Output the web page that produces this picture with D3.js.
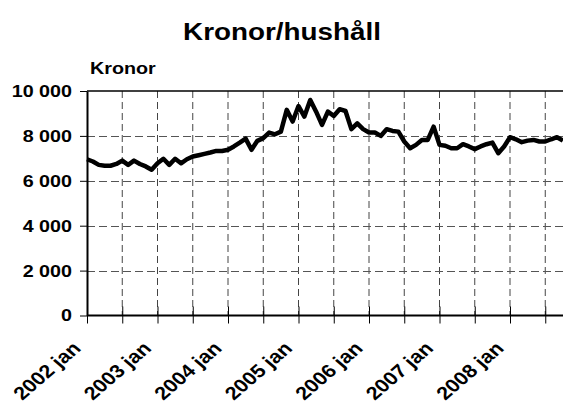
<!DOCTYPE html>
<html>
<head>
<meta charset="utf-8">
<script src="https://cdn.jsdelivr.net/npm/d3@7"></script>
<style>
  html, body { margin: 0; padding: 0; background: #fff; }
  svg { display: block; font-family: Arial, "Liberation Sans", sans-serif; }
</style>
</head>
<body>
<svg id="chart" width="563" height="409"></svg>
<script>
// Monthly amount per household, kronor, starting 2002 jan
const startYear = 2002;
const kronor = [
  6960, 6860, 6710, 6670, 6670, 6750, 6900, 6710, 6900, 6750, 6640, 6490,
  6780, 6980, 6710, 6980, 6780, 6960, 7080, 7140, 7200, 7260, 7330, 7330,
  7380, 7530, 7700, 7880, 7380, 7780, 7900, 8150, 8070, 8190, 9160, 8640,
  9330, 8860, 9600, 9080, 8490, 9080, 8890, 9190, 9110, 8300, 8560, 8300,
  8150, 8150, 8000, 8300, 8220, 8190, 7750, 7450, 7600, 7820, 7820, 8410,
  7600, 7560, 7450, 7450, 7630, 7530, 7410, 7530, 7630, 7700, 7230, 7530,
  7940, 7850, 7720, 7790, 7820, 7750, 7750, 7850, 7940, 7790
];
const monthCount = 84; // category axis covers 2002 jan .. 2008 dec
const xTickLabels = ["2002 jan", "2003 jan", "2004 jan", "2005 jan", "2006 jan", "2007 jan", "2008 jan"];
const yTicks = [0, 2000, 4000, 6000, 8000, 10000];
const titleText = "Kronor/hushåll";
const yAxisTitle = "Kronor";

const svg = d3.select("#chart");
const plotLeft = 87, plotTop = 91, plotBottom = 315.5;
const monthStep = 5.875;
const textWiden = 1.16; // horizontal widening applied to all lettering

const x = d3.scaleLinear().domain([0, monthCount - 1]).range([plotLeft, plotLeft + (monthCount - 1) * monthStep]);
const y = d3.scaleLinear().domain([0, 10000]).range([plotBottom, plotTop]);

const locale = d3.formatLocale({ decimal: ",", thousands: " ", grouping: [3], currency: ["", ""] });
const fmt = locale.format(",d");

// grid
const gridMonths = d3.range(6, monthCount + 1, 6);
svg.append("g").selectAll("line").data(gridMonths).join("line")
  .attr("x1", d => x(d)).attr("x2", d => x(d))
  .attr("y1", plotTop).attr("y2", plotBottom)
  .attr("stroke", "#444").attr("stroke-width", 1).attr("stroke-dasharray", "7,4");
svg.append("g").selectAll("line").data(yTicks.filter(v => v > 0 && v < 10000)).join("line")
  .attr("x1", plotLeft).attr("x2", 563)
  .attr("y1", d => Math.round(y(d)) + 0.5).attr("y2", d => Math.round(y(d)) + 0.5)
  .attr("stroke", "#555").attr("stroke-width", 1).attr("stroke-dasharray", "8,4");

// top border
svg.append("line").attr("x1", plotLeft).attr("x2", 563).attr("y1", y(10000)).attr("y2", y(10000))
  .attr("stroke", "#000").attr("stroke-width", 1.5);

// y axis
const yAxis = d3.axisLeft(y).tickValues(yTicks).tickFormat(fmt).tickSizeInner(7).tickSizeOuter(0).tickPadding(0);
const gy = svg.append("g").attr("transform", `translate(${plotLeft},0)`).call(yAxis);
gy.select(".domain").attr("stroke", "#000").attr("stroke-width", 2);
gy.selectAll(".tick line").attr("stroke", "#000").attr("stroke-width", 1);
gy.selectAll(".tick text")
  .attr("x", 0)
  .attr("transform", `translate(-15,0) scale(${textWiden},1)`)
  .attr("font-size", 17).attr("font-weight", "bold").attr("fill", "#000");

// x axis: ticks every 6 months, labels every 12
const xAxis = d3.axisBottom(x).tickValues(d3.range(0, monthCount + 1, 6)).tickSize(0).tickFormat("");
const gx = svg.append("g").attr("transform", `translate(0,${plotBottom})`).call(xAxis);
gx.select(".domain").remove();
svg.append("line").attr("x1", plotLeft).attr("x2", 563).attr("y1", plotBottom).attr("y2", plotBottom)
  .attr("stroke", "#000").attr("stroke-width", 2);
gx.selectAll(".tick").append("line").attr("y1", -9).attr("y2", 8).attr("stroke", "#000").attr("stroke-width", 1);

svg.append("g").selectAll("text").data(xTickLabels).join("text")
  .attr("transform", (d, i) => `translate(${x(i * 12) - 5},${plotBottom + 34}) scale(${textWiden},1) rotate(-45)`)
  .attr("text-anchor", "end")
  .attr("font-size", 18.5).attr("font-weight", "bold").attr("fill", "#000")
  .text(d => d);

// line
const line = d3.line().x((d, i) => x(i)).y(d => y(d));
svg.append("path").datum(kronor).attr("d", line)
  .attr("fill", "none").attr("stroke", "#000").attr("stroke-width", 4.5)
  .attr("stroke-linejoin", "round");

// titles
svg.append("text").attr("transform", `translate(282,40) scale(${textWiden},1)`).attr("text-anchor", "middle")
  .attr("font-size", 24).attr("font-weight", "bold").text(titleText);
svg.append("text").attr("transform", `translate(90,74) scale(${textWiden},1)`)
  .attr("font-size", 17).attr("font-weight", "bold").text(yAxisTitle);
</script>
</body>
</html>
